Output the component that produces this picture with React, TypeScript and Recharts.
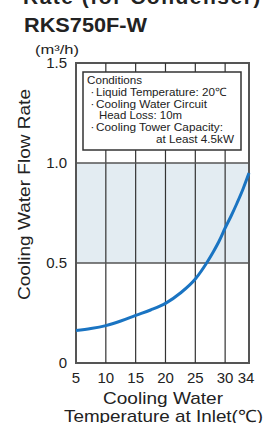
import React from 'react';
import { LineChart, Line, XAxis, YAxis, ReferenceArea, ReferenceLine } from 'recharts';

const temperatures = [5, 7.5, 10, 12.5, 15, 17.5, 20, 22.5, 25, 27, 28, 29, 30, 31, 32, 33, 34];
const flowRates = [0.162, 0.172, 0.187, 0.21, 0.238, 0.265, 0.298, 0.35, 0.42, 0.505, 0.555, 0.61, 0.675, 0.735, 0.8, 0.87, 0.95];
const xTicks = [5, 10, 15, 20, 25, 30, 34];
const yTicks = [0, 0.5, 1.0, 1.5];
const gridX = [10, 15, 20, 25, 30];
const gridY = [0.5, 1.0];
const band = [0.5, 1.0];
const conditionTitle = 'Conditions';
const conditionLines = [
  { bullet: true, text: 'Liquid Temperature: 20℃' },
  { bullet: true, text: 'Cooling Water Circuit' },
  { bullet: false, text: 'Head Loss: 10m' },
  { bullet: true, text: 'Cooling Tower Capacity:' },
  { bullet: false, text: 'at Least 4.5kW' },
];

const data = temperatures.map((t, i) => ({ t, flow: flowRates[i] }));
const FONT = '"Liberation Sans", Arial, Helvetica, sans-serif';

const XTick = (props: any) => {
  const { x, y, payload } = props;
  const isLast = payload.value === 34;
  return (
    <text x={x + (isLast ? -3 : 0)} y={y} dy="0.71em" textAnchor="middle" fontSize={15} fill="#222" fontFamily={FONT}>
      {payload.value}
    </text>
  );
};

// layout of the conditions box text (pixels, style only)
const lineLayout = [
  { x: 96, y: 95.7, len: 130 },
  { x: 96, y: 107.5, len: 111 },
  { x: 99, y: 119.3, len: 83 },
  { x: 96, y: 131, len: 127 },
  { x: 156, y: 143, len: 78 },
];

export default function App() {
  return (
    <div style={{ position: 'absolute', left: 0, top: 0, width: 273, height: 423, background: '#fff', fontFamily: FONT }}>
      <LineChart width={273} height={423} data={data} margin={{ top: 63, right: 24, bottom: 0, left: 0 }}>
        <XAxis
          dataKey="t"
          type="number"
          domain={[5, 34]}
          ticks={xTicks}
          interval={0}
          axisLine={false}
          tickLine={false}
          tickSize={0}
          tickMargin={9}
          height={60}
          tick={<XTick />}
        />
        <YAxis
          type="number"
          domain={[0, 1.5]}
          ticks={yTicks}
          interval={0}
          axisLine={false}
          tickLine={false}
          tickSize={0}
          tickMargin={9}
          width={76}
          tickFormatter={(v: number) => (v === 0 ? '0' : v.toFixed(1))}
          tick={{ fill: '#222', fontSize: 15, fontFamily: FONT }}
        />
        <ReferenceArea y1={band[0]} y2={band[1]} x1={5} x2={34} fill="#e3ecf2" fillOpacity={1} stroke="none" ifOverflow="visible" />
        {gridX.map((x) => (
          <ReferenceLine key={'gx' + x} x={x} stroke="#333" strokeWidth={1.2} />
        ))}
        {gridY.map((y) => (
          <ReferenceLine key={'gy' + y} y={y} stroke="#555" strokeWidth={1.5} />
        ))}
        <ReferenceArea x1={5} x2={34} y1={0} y2={1.5} fill="none" fillOpacity={0} stroke="#555" strokeWidth={2} ifOverflow="visible" />
        <Line type="monotone" dataKey="flow" stroke="#1a74c2" strokeWidth={3} dot={false} isAnimationActive={false} />
      </LineChart>
      <svg width={273} height={423} style={{ position: 'absolute', left: 0, top: 0, pointerEvents: 'none' }}>
        <text x={23} y={3.5} fontSize={21} fontWeight="bold" fill="#222" fontFamily={FONT} letterSpacing={1.5}>Rate (for Condenser)</text>
        <text x={24} y={32} fontSize={20} fontWeight="bold" fill="#222" fontFamily={FONT} textLength={123} lengthAdjust="spacingAndGlyphs">RKS750F-W</text>
        <text x={35} y={53.5} fontSize={12} fill="#222" fontFamily={FONT} textLength={44} lengthAdjust="spacingAndGlyphs">(m³/h)</text>
        <text transform="translate(29.5,194.5) rotate(-90)" textAnchor="middle" fontSize={17} fill="#222" fontFamily={FONT} textLength={211} lengthAdjust="spacingAndGlyphs">Cooling Water Flow Rate</text>
        <text x={163} y={404} textAnchor="middle" fontSize={17} fill="#222" fontFamily={FONT} textLength={120} lengthAdjust="spacingAndGlyphs">Cooling Water</text>
        <text x={163.5} y={422} textAnchor="middle" fontSize={17} fill="#222" fontFamily={FONT} textLength={199} lengthAdjust="spacingAndGlyphs">Temperature at Inlet(℃)</text>
        <rect x={83} y={72} width={158} height={78} fill="#fff" stroke="#333" strokeWidth={1.5} />
        <text x={87} y={83.5} fontSize={11.5} fill="#222" fontFamily={FONT} textLength={55} lengthAdjust="spacingAndGlyphs">{conditionTitle}</text>
        {conditionLines.map((ln, i) => (
          <g key={i}>
            {ln.bullet && (
              <text x={90.5} y={lineLayout[i].y} fontSize={11.5} fill="#222" fontFamily={FONT}>·</text>
            )}
            <text x={lineLayout[i].x} y={lineLayout[i].y} fontSize={11.5} fill="#222" fontFamily={FONT} textLength={lineLayout[i].len} lengthAdjust="spacingAndGlyphs">{ln.text}</text>
          </g>
        ))}
      </svg>
    </div>
  );
}
